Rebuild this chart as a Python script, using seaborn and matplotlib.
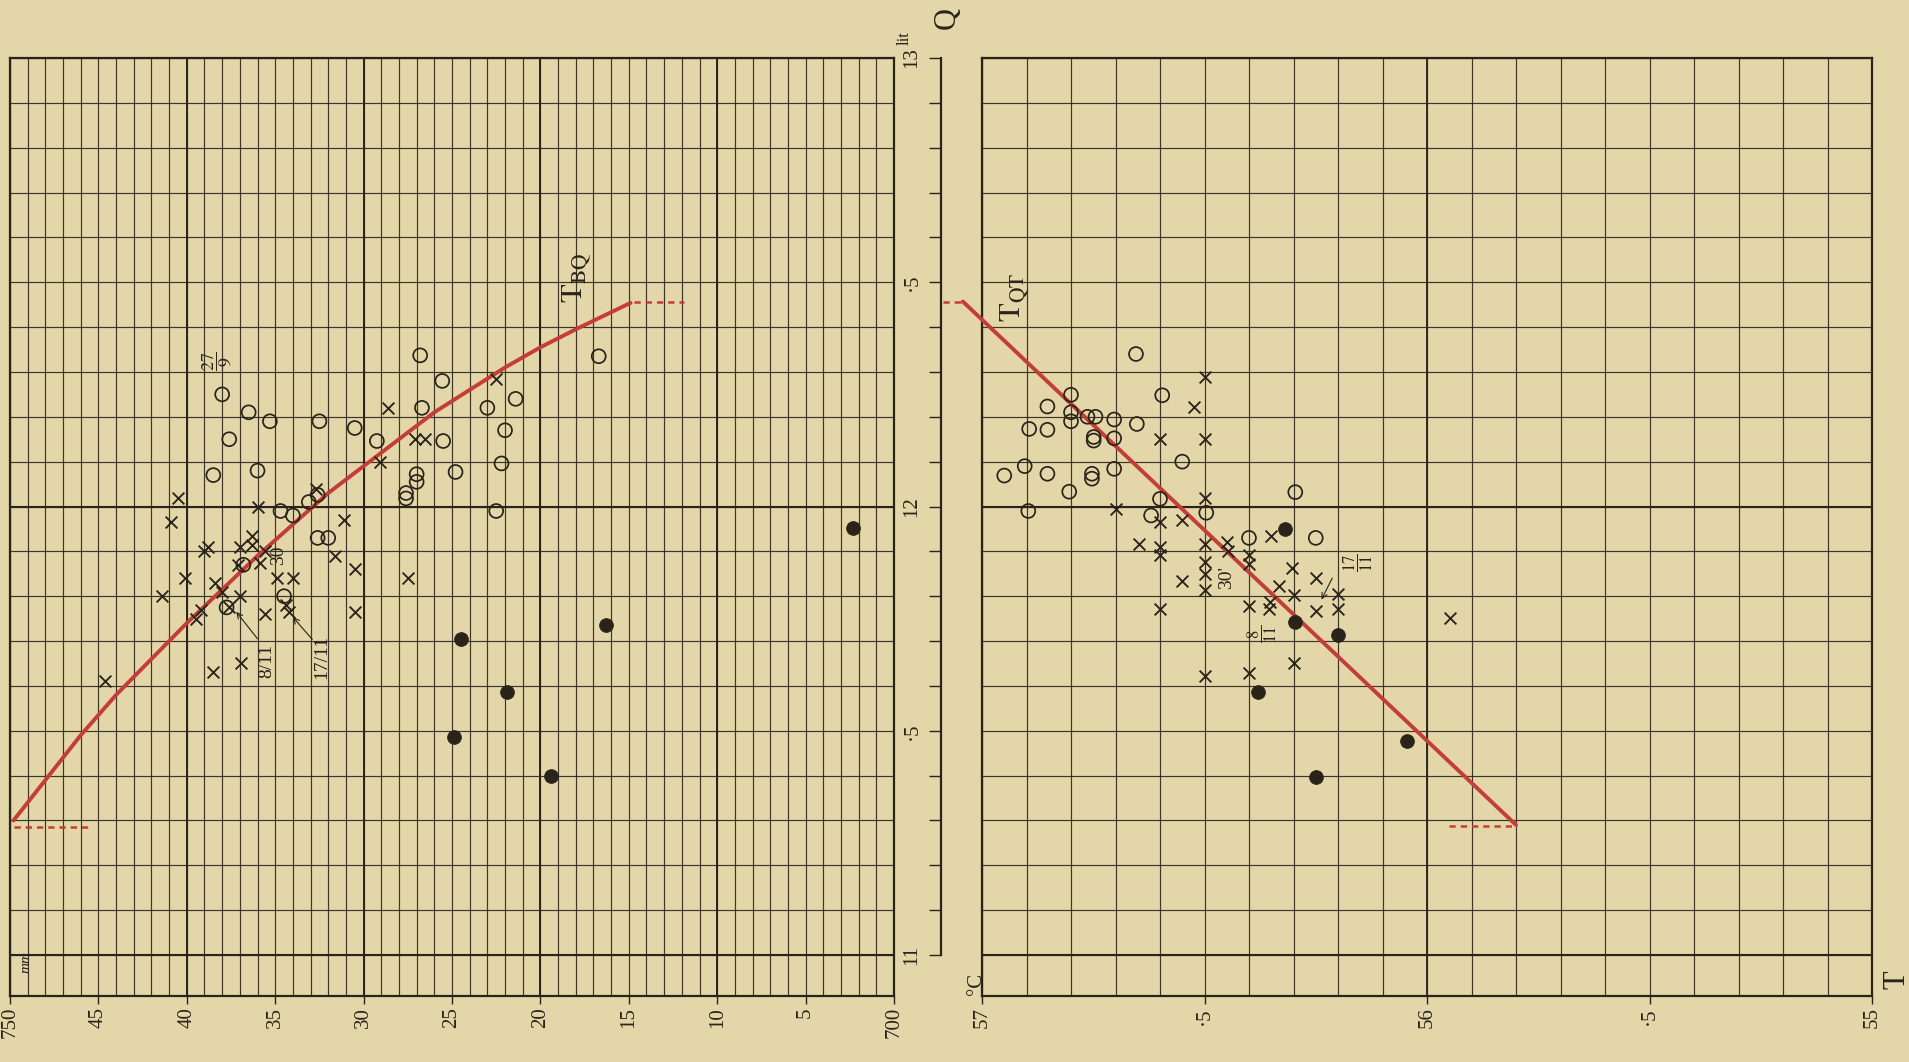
import seaborn as sns
import matplotlib.pyplot as plt
from matplotlib.ticker import MultipleLocator

# ---- values ----
# left panel: barometer B (mm) against discharge Q (lit)
bq_open_B = [738.0, 736.5, 735.3, 732.5, 730.5, 737.6, 738.5, 736.0, 734.7, 734.0, 733.1,
             732.6, 732.6, 732.0, 736.8, 737.75, 734.5, 726.8, 725.55, 726.7, 729.25, 725.5,
             727.0, 727.0, 727.6, 727.6, 724.8, 723.0, 721.4, 722.0, 722.2, 722.5, 716.7]
bq_open_Q = [12.25, 12.21, 12.19, 12.19, 12.175, 12.15, 12.07, 12.08, 11.99, 11.98, 12.01,
             12.026, 11.93, 11.93, 11.87, 11.775, 11.80, 12.337, 12.28, 12.22, 12.146, 12.146,
             12.072, 12.055, 12.03, 12.018, 12.077, 12.22, 12.24, 12.17, 12.096, 11.99, 12.335]

bq_cross_B = [740.5, 740.9, 736.0, 732.7, 731.1, 731.6, 730.5, 738.8, 739.05, 737.0, 736.3,
              736.3, 735.6, 737.1, 735.85, 740.1, 738.4, 741.4, 738.0, 734.9, 734.0, 734.4,
              734.2, 737.0, 737.6, 735.6, 739.2, 739.5, 730.5, 736.95, 738.5, 744.6, 728.6,
              727.1, 726.5, 729.1, 722.5, 727.5]
bq_cross_Q = [12.02, 11.965, 12.0, 12.04, 11.97, 11.89, 11.86, 11.91, 11.90, 11.91, 11.935,
              11.915, 11.90, 11.87, 11.875, 11.84, 11.83, 11.80, 11.81, 11.84, 11.84, 11.78,
              11.765, 11.80, 11.775, 11.76, 11.77, 11.75, 11.765, 11.65, 11.63, 11.61, 12.22,
              12.15, 12.15, 12.10, 12.285, 11.84]

bq_dot_B = [702.3, 716.3, 724.5, 721.9, 724.9, 719.4]
bq_dot_Q = [11.953, 11.736, 11.705, 11.586, 11.487, 11.40]

bq_curve_B = [749.8, 748, 746, 744, 742, 740, 738, 736, 734, 732, 730, 728, 726, 724,
              722, 720, 718, 716.8, 714.9]
bq_curve_Q = [11.30, 11.39, 11.49, 11.58, 11.66, 11.74, 11.815, 11.89, 11.96, 12.03, 12.09,
              12.15, 12.21, 12.26, 12.31, 12.355, 12.395, 12.418, 12.454]
bq_tail_lo_B = [749.8, 745.6]
bq_tail_lo_Q = [11.285, 11.285]
bq_tail_hi_B = [714.7, 711.9]
bq_tail_hi_Q = [12.456, 12.456]

# right panel: temperature T (deg C) against Q
tq_open_T = [56.654, 56.853, 56.80, 56.80, 56.80, 56.763, 56.745, 56.703, 56.595, 56.894,
             56.853, 56.749, 56.749, 56.703, 56.652, 56.95, 56.904, 56.853, 56.804, 56.753,
             56.753, 56.703, 56.55, 56.896, 56.60, 56.62, 56.496, 56.296, 56.40, 56.25]
tq_open_Q = [12.34, 12.223, 12.249, 12.21, 12.19, 12.20, 12.20, 12.194, 12.248, 12.173,
             12.171, 12.155, 12.147, 12.152, 12.184, 12.069, 12.09, 12.073, 12.033, 12.073,
             12.062, 12.084, 12.10, 11.99, 12.017, 11.98, 11.986, 12.032, 11.93, 11.93]

tq_cross_T = [56.50, 56.523, 56.60, 56.50, 56.70, 56.50, 56.60, 56.55, 56.648, 56.60, 56.60,
              56.50, 56.45, 56.448, 56.50, 56.50, 56.50, 56.55, 56.60, 56.50, 56.35, 56.40,
              56.40, 56.303, 56.25, 56.332, 56.30, 56.352, 56.355, 56.40, 56.20, 56.20, 56.25,
              56.30, 56.40, 55.949]
tq_cross_Q = [12.288, 12.222, 12.15, 12.15, 11.995, 12.02, 11.965, 11.969, 11.917, 11.909,
              11.891, 11.917, 11.92, 11.90, 11.876, 11.85, 11.813, 11.835, 11.772, 11.623,
              11.934, 11.892, 11.872, 11.862, 11.84, 11.822, 11.802, 11.788, 11.772, 11.778,
              11.806, 11.772, 11.768, 11.65, 11.628, 11.752]

tq_dot_T = [56.32, 56.297, 56.20, 56.38, 56.046, 56.25]
tq_dot_Q = [11.95, 11.742, 11.714, 11.586, 11.478, 11.396]

tq_line_T = [57.043, 55.80]
tq_line_Q = [12.457, 11.29]
tq_tail_hi_T = [57.088, 57.043]
tq_tail_hi_Q = [12.457, 12.457]
tq_tail_lo_T = [55.95, 55.80]
tq_tail_lo_Q = [11.288, 11.288]

B_ticks = [750, 745, 740, 735, 730, 725, 720, 715, 710, 705, 700]
B_labels = ['750', '45', '40', '35', '30', '25', '20', '15', '10', '5', '700']
T_ticks = [57, 56.5, 56, 55.5, 55]
T_labels = ['57', '·5', '56', '·5', '55']
Q_ticks = [11, 11.5, 12, 12.5, 13]
Q_labels = ['11', '·5', '12', '·5', '13']
bold_B = [740, 730, 720, 710]
bold_Q = [11, 12]
bold_T = [56]

paper = '#e3d6a9'
ink = '#2a231a'
red = '#c63c36'

sns.set_style('ticks')
plt.rcParams['font.family'] = ['Liberation Serif', 'DejaVu Serif']
plt.rcParams['mathtext.fontset'] = 'stix'

W, H = 1909, 1062
fig = plt.figure(figsize=(W / 100, H / 100), dpi=100, facecolor=paper)


def box(x0, y0, x1, y1):
    return [x0 / W, 1 - y1 / H, (x1 - x0) / W, (y1 - y0) / H]


q_lo = 13 - (996 - 58) / 448.5

ax1 = fig.add_axes(box(10, 58, 894, 996))
ax2 = fig.add_axes(box(982, 58, 1872, 996))
axr = fig.add_axes(box(941, 58, 946, 996))

for ax in (ax1, ax2):
    ax.set_facecolor(paper)
    ax.set_ylim(q_lo, 13)
    ax.set_axisbelow(True)
    ax.yaxis.set_major_locator(MultipleLocator(0.1))
    ax.tick_params(axis='y', left=False, labelleft=False)
    ax.grid(axis='y', which='major', color=ink, lw=0.85, alpha=0.9)
    ax.grid(axis='x', which='both', color=ink, lw=0.85, alpha=0.9)
    ax.tick_params(axis='x', which='minor', length=0)
    ax.tick_params(axis='x', which='major', length=6, width=1.0, color=ink,
                   labelsize=15, labelcolor=ink, pad=2)
    for s in ax.spines.values():
        s.set_color(ink)
        s.set_linewidth(1.6)
    for q in bold_Q:
        ax.axhline(q, color=ink, lw=1.5, zorder=1)

# left panel
ax1.set_xlim(750, 700)
ax1.xaxis.set_minor_locator(MultipleLocator(1))
ax1.set_xticks(B_ticks, labels=B_labels, rotation=90)
for b in bold_B:
    ax1.axvline(b, color=ink, lw=1.4, zorder=1)

# right panel
ax2.set_xlim(57, 55)
ax2.xaxis.set_minor_locator(MultipleLocator(0.1))
ax2.set_xticks(T_ticks, labels=T_labels, rotation=90)
for t in bold_T:
    ax2.axvline(t, color=ink, lw=1.3, zorder=1)

# Q ruler between the panels
axr.set_ylim(q_lo, 13)
axr.patch.set_alpha(0)
for s in ['top', 'right', 'bottom']:
    axr.spines[s].set_visible(False)
axr.spines['left'].set_bounds(11, 13)
axr.spines['left'].set_color(ink)
axr.spines['left'].set_linewidth(1.6)
axr.set_xticks([])
axr.set_yticks(Q_ticks, labels=Q_labels, rotation=90, va='center')
axr.yaxis.set_minor_locator(MultipleLocator(0.1))
axr.tick_params(axis='y', which='both', direction='out', length=9, width=1.0,
                color=ink, labelsize=15, labelcolor=ink, pad=5)

# observations
for ax, xo, yo, xc, yc, xd, yd in [
        (ax1, bq_open_B, bq_open_Q, bq_cross_B, bq_cross_Q, bq_dot_B, bq_dot_Q),
        (ax2, tq_open_T, tq_open_Q, tq_cross_T, tq_cross_Q, tq_dot_T, tq_dot_Q)]:
    sns.scatterplot(x=xo, y=yo, ax=ax, marker='o', s=100, color=ink, facecolors='none',
                    edgecolor=ink, linewidth=1.25, zorder=4)
    sns.scatterplot(x=xc, y=yc, ax=ax, marker='x', s=72, color=ink, edgecolor=None,
                    linewidth=1.35, zorder=4)
    sns.scatterplot(x=xd, y=yd, ax=ax, marker='o', s=100, color=ink, edgecolor=ink,
                    linewidth=0.5, zorder=4)

# curves
sns.lineplot(x=bq_curve_B, y=bq_curve_Q, ax=ax1, sort=False, estimator=None,
             color=red, lw=2.8, zorder=3, clip_on=False)
sns.lineplot(x=tq_line_T, y=tq_line_Q, ax=ax2, sort=False, estimator=None,
             color=red, lw=2.8, zorder=3, clip_on=False)
for ax, xs, ys in [(ax1, bq_tail_lo_B, bq_tail_lo_Q), (ax1, bq_tail_hi_B, bq_tail_hi_Q),
                   (ax2, tq_tail_hi_T, tq_tail_hi_Q), (ax2, tq_tail_lo_T, tq_tail_lo_Q)]:
    sns.lineplot(x=xs, y=ys, ax=ax, sort=False, estimator=None, color=red, lw=1.8,
                 linestyle=(0, (2.5, 2)), zorder=3, clip_on=False)

# curve names and notes
ax1.text(717.9, 12.51, r'$\mathrm{T}_{\mathrm{BQ}}$', rotation=90, fontsize=22,
         color=ink, ha='center', va='center')
ax2.text(56.926, 12.467, r'$\mathrm{T}_{\mathrm{QT}}$', rotation=90, fontsize=22,
         color=ink, ha='center', va='center')
ax1.text(738.25, 12.324, r'$\dfrac{27}{9}$', rotation=90, fontsize=13, color=ink,
         ha='center', va='center')
ax1.text(734.8, 11.892, '30', rotation=90, fontsize=14, color=ink, ha='center', va='center')
ax1.text(735.5, 11.655, '8/11', rotation=90, fontsize=14, color=ink, ha='center', va='center')
ax1.text(732.35, 11.665, '17/11', rotation=90, fontsize=14, color=ink, ha='center', va='center')
ax1.annotate('', xy=(737.3, 11.77), xytext=(735.9, 11.70),
             arrowprops=dict(arrowstyle='->', color=ink, lw=0.8))
ax1.annotate('', xy=(734.1, 11.758), xytext=(732.8, 11.699),
             arrowprops=dict(arrowstyle='->', color=ink, lw=0.8))
ax2.text(56.45, 11.841, "30'", rotation=90, fontsize=14, color=ink, ha='center', va='center')
ax2.text(56.155, 11.874, r'$\dfrac{17}{11}$', rotation=90, fontsize=12, color=ink,
         ha='center', va='center')
ax2.text(56.369, 11.716, r'$\dfrac{8}{11}$', rotation=90, fontsize=12, color=ink,
         ha='center', va='center')
ax2.annotate('', xy=(56.24, 11.787), xytext=(56.21, 11.846),
             arrowprops=dict(arrowstyle='->', color=ink, lw=0.8))

# axis names
fig.text(947 / W, 1 - 18 / H, 'Q', rotation=90, fontsize=22, color=ink, ha='center', va='center')
fig.text(905 / W, 1 - 38 / H, 'lit', rotation=90, fontsize=12, color=ink, ha='center', va='center')
fig.text(1897 / W, 1 - 980 / H, 'T', rotation=90, fontsize=22, color=ink, ha='center', va='center')
fig.text(976 / W, 1 - 984 / H, '°C', rotation=90, fontsize=15, color=ink, ha='center', va='center')
fig.text(26 / W, 1 - 962 / H, 'mm', rotation=90, fontsize=11, style='italic', color=ink,
         ha='center', va='center')

fig.savefig('out.png', dpi=100, facecolor=paper)
